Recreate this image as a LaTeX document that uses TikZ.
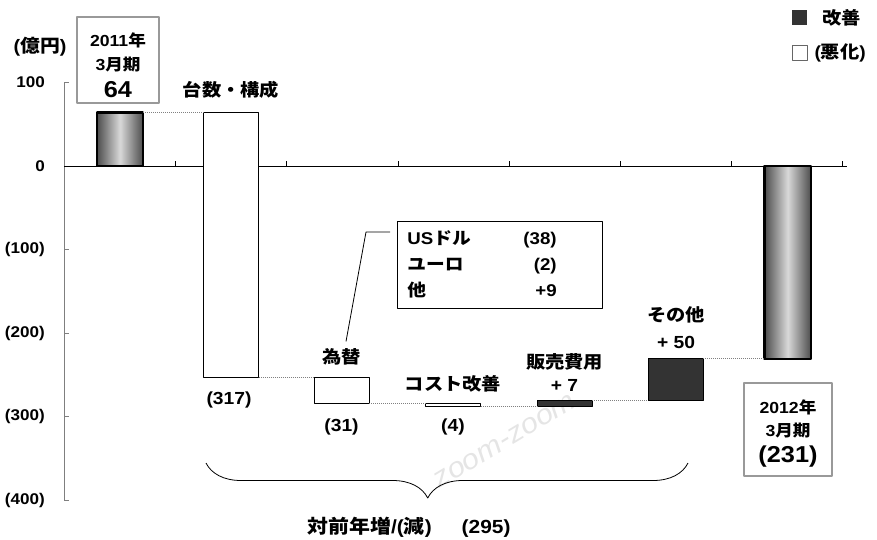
\documentclass[tikz,border=0pt]{standalone}
\usepackage{fontspec}
\setmainfont{Liberation Sans}[FakeStretch=1.1]
\newfontfamily\jp{Noto Sans CJK JP}[FakeStretch=1.1]
\usetikzlibrary{positioning,calc,decorations.pathreplacing}
\newcommand{\J}[1]{{\jp #1}}
\newcommand{\fs}[1]{\fontsize{#1}{#1}\selectfont}
\definecolor{darkbar}{HTML}{333333}
\definecolor{framegray}{HTML}{999999}
\definecolor{axisgray}{HTML}{7F7F7F}

\begin{document}
\begin{tikzpicture}[x=1pt, y=1pt, line join=round, font=\bfseries\fs{17.5},
  stepup/.style={draw=black, fill=white, line width=0.8pt},
  stepdown/.style={draw=black, fill=darkbar, line width=0.8pt},
  endbar/.style={draw=black, line width=2.2pt, left color=black!70, right color=black!70, middle color=black!15},
  link/.style={draw=gray, line width=0.8pt, dash pattern=on 1pt off 1pt},
  valbox/.style={draw=framegray, line width=2pt, fill=white},
  lbl/.style={inner sep=1pt}]
\useasboundingbox (0,166) rectangle (877,-373);

% watermark
\node[rotate=31, text=black!10, font=\mdseries\itshape\fs{28}, inner sep=0pt] (wm) at (505,-275) {zoom-zoom};

% axes, bars (value units)
\begin{scope}[yscale=0.835]
  \draw[axisgray, line width=0.8pt] (64,100) -- (64,-400);
  \foreach \v in {100,0,-100,-200,-300,-400}
    \draw[axisgray, line width=0.8pt] (64,\v) -- ++(5,0);
  \foreach \v/\t in {100/100, 0/0, -100/(100), -200/(200), -300/(300), -400/(400)}
    \node[lbl, anchor=east, font=\bfseries\fs{15.5}] (ytick\v) at (46,\v) {\t};
  \draw[line width=0.8pt] (64,0) -- (847,0);
  \foreach \k in {0,...,6}
    \draw[line width=0.8pt] (175.6+111.2*\k,0) -- ++(0,6);

  \draw[endbar] (97,0) coordinate (s-bl) rectangle (143,64) coordinate (s-tr);
  \foreach \n/\c/\lo/\hi/\st in {dai/231/-253/64/stepup, kaw/341.5/-284/-253/stepup,
      cost/453/-288/-284/stepup, han/564.5/-288/-281/stepdown, oth/675.5/-281/-231/stepdown}
    \draw[\st] (\c-27.5,\lo) coordinate (\n-bl) rectangle (\c+27.5,\hi) coordinate (\n-tr);
  \draw[endbar] (764.5,-231) coordinate (e-bl) rectangle (811,0) coordinate (e-tr);
\end{scope}

% links between steps
\draw[link] (s-tr) -- (dai-bl |- dai-tr);
\draw[link] (dai-tr |- dai-bl) -- (kaw-bl |- kaw-tr);
\draw[link] (kaw-tr |- kaw-bl) -- (cost-bl |- cost-tr);
\draw[link] (cost-tr |- cost-bl) -- (han-bl);
\draw[link] (han-tr) -- (oth-bl);
\draw[link] (oth-tr) -- (e-bl);

\node[lbl, font=\bfseries\fs{18}] (unit) at (40,119) {(\J{億円})};

% start / end boxes
\node[valbox, minimum width=82, minimum height=86] (y11) at (118,106) {};
\node[lbl, font=\bfseries\fs{16}] (y11a) at ($(y11)+(0,20)$) {2011\J{年}};
\node[lbl, font=\bfseries\fs{16}] (y11b) at ($(y11)+(0,-5)$) {3\J{月期}};
\node[lbl, font=\bfseries\fs{23}] (y11c) at ($(y11)+(0,-30)$) {64};
\node[valbox, minimum width=88, minimum height=93] (y12) at (788,-263.5) {};
\node[lbl, font=\bfseries\fs{16}] (y12a) at ($(y12)+(0,22.5)$) {2012\J{年}};
\node[lbl, font=\bfseries\fs{16}] (y12b) at ($(y12)+(0,-1.5)$) {3\J{月期}};
\node[lbl, font=\bfseries\fs{23}] (y12c) at ($(y12)+(0,-27.5)$) {(231)};

% step labels
\node[lbl] (daiL) at (231,76) {\J{台数・構成}};
\node[lbl] (daiV) at (229,-234) {(317)};
\node[lbl] (kawL) at (341.5,-191) {\J{為替}};
\node[lbl] (kawV) at (341.5,-261) {(31)};
\node[lbl] (costL) at (453,-218) {\J{コスト改善}};
\node[lbl] (costV) at (453,-261) {(4)};
\node[lbl] (hanL) at (564.5,-196) {\J{販売費用}};
\node[lbl] (hanV) at (564.5,-219) {+ 7};
\node[lbl] (othL) at (676,-149) {\J{その他}};
\node[lbl] (othV) at (676,-176) {+ 50};

% exchange breakdown
\node[draw, line width=0.8pt, fill=white, anchor=north west, minimum height=87, text width=185pt,
  align=left, inner xsep=10pt, inner ysep=0pt, font=\bfseries\fontsize{17}{26}\selectfont] (fx) at (397,-55)
  {\begin{tabular}{@{}p{116pt}@{}r@{}}
   US\J{ドル} & (38)\\
   \J{ユーロ} & (2)\\
   \J{他} & +9
   \end{tabular}};
\coordinate (fxA) at ([shift={(-7,-11)}]fx.north west);
\draw[line width=0.8pt] (fxA) -- ++(-24,0) -- ($(kawL.north)+(4.5,6)$);

% total
\draw[line width=0.8pt, decorate, decoration={brace, mirror, amplitude=35pt, aspect=0.46}]
  (206,-297) coordinate (brL) -- (688,-297) coordinate (brR);
\node[lbl, font=\bfseries\fs{19}] (total) at (409,-361) {\J{対前年増}/(\J{減})\hspace{30pt}(295)};

% legend
\node[fill=darkbar, minimum size=15, inner sep=0] (lgup) at (799.5,148.5) {};
\node[lbl, right=14pt of lgup] (lgupT) {\J{改善}};
\node[draw=black!60, fill=white, line width=0.6pt, minimum size=15, inner sep=0] (lgdn) at (799.5,113.5) {};
\node[lbl, right=6pt of lgdn] (lgdnT) {(\J{悪化})};
\end{tikzpicture}
\end{document}
